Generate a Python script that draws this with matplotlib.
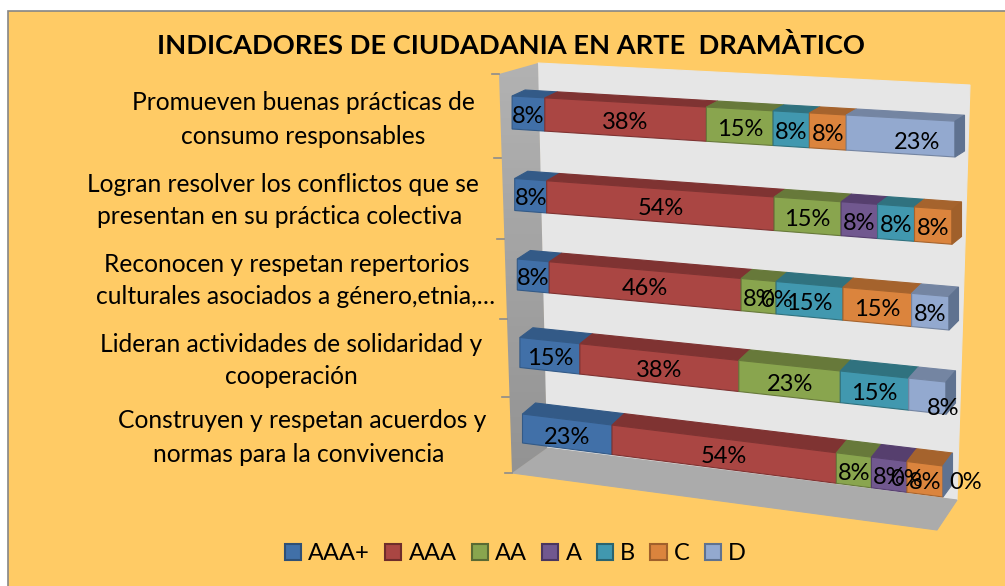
import numpy as np
import matplotlib
matplotlib.use("Agg")
import matplotlib.pyplot as plt
from matplotlib.patches import Polygon, Rectangle

plt.rcParams['font.family'] = ['Lato', 'DejaVu Sans']

# Data, top row first. nan = no label / no segment in the chart
title = "INDICADORES DE CIUDADANIA EN ARTE  DRAMÀTICO"
categories = [
    "Promueven buenas prácticas de\nconsumo responsables",
    "Logran resolver los conflictos que se\npresentan en su práctica colectiva",
    "Reconocen y respetan repertorios\nculturales asociados a género,etnia,…",
    "Lideran actividades de solidaridad y\ncooperación",
    "Construyen y respetan acuerdos y\nnormas para la convivencia",
]
series_names = ["AAA+", "AAA", "AA", "A", "B", "C", "D"]
nan = np.nan
aaa_plus = [8, 8, 8, 15, 23]
aaa = [38, 54, 46, 38, 54]
aa = [15, 15, 8, 23, 8]
a = [nan, 8, 0, nan, 8]
b = [8, 8, 15, 15, 0]
c = [8, 8, 15, nan, 8]
d = [23, nan, 8, 8, 0]
values = np.array([aaa_plus, aaa, aa, a, b, c, d], dtype=float)

front_colors = ["#4170A8", "#AA4643", "#89A54E", "#71588F", "#4198AF", "#DB843D", "#93A9CF"]
top_colors = ["#335A87", "#7F3332", "#67793A", "#563F6E", "#30727F", "#A5632D", "#7485A2"]
side_colors = ["#2F5076", "#6F2D2B", "#5A6A33", "#4A3660", "#2A6470", "#A0602B", "#5F7290"]

# where each category text line goes
line_pos = [
    [(303, 103), (303, 136)],
    [(283, 185), (280, 217)],
    [(287, 264), (296, 297)],
    [(291, 344), (291, 377)],
    [(302, 421), (299, 454)],
]
# labels Excel pushed off the segment centre (row, series): (dx, dy)
label_nudge = {(0, 6): (16, 4), (3, 6): (16, 9), (4, 6): (23, -2)}


def warp(v):
    # perspective along the value axis
    return v / (v + 1.09 * (1 - v))


def project(v, r, s, w):
    # v share 0-1, r row (0 = bottom), s -1/1 bar edge, w depth 0-1 -> pixels
    t = warp(v)
    x = (522.5 - 2.6 * r) + ((943 + 3 * r) - (522.5 - 2.6 * r)) * t
    yc = (428.5 - 79 * r) + ((481.5 - 85.6 * r) - (428.5 - 79 * r)) * t
    yc += r * (4 - r) * (1 - 0.25 * t)
    half = (14.5 + 0.5 * r) + ((15.5 + 0.6 * r) - (14.5 + 0.5 * r)) * t
    dx = 13 - 3.5 * t
    dy = (11 - 1.25 * r) + ((13 - 1.75 * r) - (11 - 1.25 * r)) * t
    return x + dx * w, yc + s * half - dy * w


def quad(ax, pts, color, edge=None, z=3):
    ax.add_patch(Polygon(pts, closed=True, facecolor=color, edgecolor=edge or color,
                         linewidth=0.8, zorder=z))


fig = plt.figure(figsize=(10.05, 5.86), dpi=100, facecolor="white")
ax = fig.add_axes([0, 0, 1, 1])
ax.set_xlim(0, 1005)
ax.set_ylim(586, 0)
ax.axis("off")

# chart area
ax.add_patch(Rectangle((8, 11), 1010, 590, facecolor="#FFCB65", edgecolor="#868686", linewidth=1.2))

# 3D box: back wall, floor, side wall
quad(ax, [(538, 63), (970, 85), (957, 500), (547, 448)], "#E6E6E6", z=1)
quad(ax, [(512, 473), (547, 448), (957, 500), (937, 530)], "#ABABAB", z=1)
side = Polygon([(499, 74), (538, 63), (547, 448), (512, 473)], closed=True, facecolor="none", edgecolor="none")
ax.add_patch(side)
im = ax.imshow(np.linspace(0, 1, 50).reshape(-1, 1), extent=(495, 550, 475, 60), cmap=matplotlib.colors.LinearSegmentedColormap.from_list("w", ["#B2B2B2", "#939393"]),
               aspect="auto", zorder=1)
ax.set_xlim(0, 1005)
ax.set_ylim(586, 0)
im.set_clip_path(side)

# category ticks on the side wall
for yt, xt in zip([74, 158, 239, 319, 397, 473], [499, 501, 504, 507, 509, 512]):
    ax.plot([xt - 7, xt], [yt, yt], color="#8C8C8C", linewidth=1.2, zorder=2)

n_rows = len(categories)
for i in range(n_rows):
    r = n_rows - 1 - i
    row = values[:, i]
    total = np.nansum(row)
    start = 0.0
    last = max(j for j in range(len(row)) if not np.isnan(row[j]))
    for j, val in enumerate(row):
        if np.isnan(val):
            continue
        end = start + val / total
        if val > 0:
            quad(ax, [project(start, r, -1, 0), project(end, r, -1, 0), project(end, r, -1, 1), project(start, r, -1, 1)],
                 top_colors[j])
            quad(ax, [project(start, r, -1, 0), project(end, r, -1, 0), project(end, r, 1, 0), project(start, r, 1, 0)],
                 front_colors[j], edge=top_colors[j], z=4)
        if j == last:
            quad(ax, [project(1, r, -1, 0), project(1, r, -1, 1), project(1, r, 1, 1), project(1, r, 1, 0)],
                 side_colors[j], z=4)
        lx, ly = project(start, r, 0, 0)
        rx, ry = project(end, r, 0, 0)
        nx, ny = label_nudge.get((i, j), (0, 0))
        ax.text((lx + rx) / 2 + nx, (ly + ry) / 2 + 3 + ny, f"{val:.0f}%", ha="center", va="center",
                fontsize=17, color="black", zorder=6)
        start = end

# category labels
for cat, pos in zip(categories, line_pos):
    for line, (x, y) in zip(cat.split("\n"), pos):
        ax.text(x, y, line, ha="center", va="center", fontsize=17.7, color="black", zorder=6)

ax.text(511, 45, title, ha="center", va="center", fontsize=19.6, fontweight="bold", color="black")

# legend
handles = [Rectangle((0, 0), 1, 1, facecolor=front_colors[j], edgecolor=side_colors[j], linewidth=1.5)
           for j in range(len(series_names))]
ax.legend(handles, series_names, loc="center", bbox_to_anchor=(515.5 / 1005, 1 - 554 / 586), ncol=7,
          frameon=False, fontsize=17, handlelength=0.68, handleheight=0.68, handletextpad=0.3,
          columnspacing=0.65, borderpad=0, borderaxespad=0)

fig.savefig("out.png", dpi=100)
